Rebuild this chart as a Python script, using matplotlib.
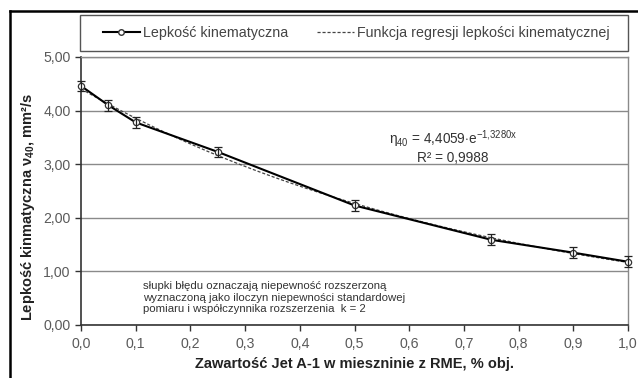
import numpy as np
import matplotlib
matplotlib.use("Agg")
import matplotlib.pyplot as plt
from matplotlib.lines import Line2D
from matplotlib.patches import Rectangle

plt.rcParams["font.family"] = ["Liberation Sans", "DejaVu Sans"]
plt.rcParams["mathtext.fontset"] = "custom"
plt.rcParams["mathtext.rm"] = "Liberation Sans"
plt.rcParams["mathtext.it"] = "Liberation Sans"
plt.rcParams["mathtext.bf"] = "Liberation Sans:bold"

# measured kinematic viscosity vs Jet A-1 fraction in RME blend
jet_fraction = [0.0, 0.05, 0.1, 0.25, 0.5, 0.75, 0.9, 1.0]
viscosity = [4.46, 4.10, 3.78, 3.23, 2.23, 1.59, 1.35, 1.18]
uncertainty = [0.10, 0.10, 0.10, 0.10, 0.10, 0.10, 0.10, 0.10]

# exponential regression coefficients
fit_a = 4.4059
fit_b = -1.3280
fit_r2 = 0.9988

x_ticks = [0.0, 0.1, 0.2, 0.3, 0.4, 0.5, 0.6, 0.7, 0.8, 0.9, 1.0]
y_ticks = [0, 1, 2, 3, 4, 5]

tick_color = "#5a5a5a"
grid_color = "#8a8a8a"

fig = plt.figure(figsize=(6.38, 3.78), dpi=100)
ax = fig.add_axes([81 / 638, 1 - 325 / 378, 547 / 638, 268 / 378])

xs = np.linspace(0, 1, 200)
ax.plot(xs, fit_a * np.exp(fit_b * xs), color="#444444", lw=0.9,
        ls=(0, (2.5, 1.5)), zorder=3,
        label="Funkcja regresji lepkości kinematycznej")
ax.plot(jet_fraction, viscosity, color="black", lw=1.5, zorder=4,
        marker="o", ms=4.5, mfc="white", mec="#333333", mew=0.9,
        clip_on=False, label="Lepkość kinematyczna")
eb = ax.errorbar(jet_fraction, viscosity, yerr=uncertainty, fmt="none",
                 ecolor="#222222", elinewidth=0.9, capsize=3, capthick=0.9,
                 zorder=5)
for art in eb.get_children():
    art.set_clip_on(False)

ax.set_xlim(0, 1)
ax.set_ylim(0, 5)
ax.set_xticks(x_ticks)
ax.set_xticklabels([f"{t:.1f}".replace(".", ",") for t in x_ticks])
ax.set_yticks(y_ticks)
ax.set_yticklabels([f"{t:.2f}".replace(".", ",") for t in y_ticks])
ax.tick_params(axis="both", direction="out", length=4, width=1,
               color="#333333", labelcolor=tick_color, labelsize=10.2)
ax.tick_params(axis="x", pad=5)
ax.grid(axis="y", color=grid_color, lw=1)
ax.set_axisbelow(True)
for side in ["left", "bottom"]:
    ax.spines[side].set_color("#333333")
    ax.spines[side].set_linewidth(1.2)
for side in ["top", "right"]:
    ax.spines[side].set_color(grid_color)
    ax.spines[side].set_linewidth(1)

ax.set_xlabel("Zawartość Jet A-1 w mieszninie z RME, % obj.",
              fontsize=10.5, fontweight="bold", color="#222222", labelpad=4)
fig.text(28 / 638, 1 - 207 / 378,
         r"Lepkość kinmatyczna ν$_{\mathbf{40}}$, mm²/s",
         rotation=90, ha="center", va="center",
         fontsize=10.5, fontweight="bold", color="#222222")

ax.text(0.68, 3.47,
        r"$\eta_{40}$ = 4,4059$\cdot$e$^{-1{,}3280x}$",
        ha="center", va="center", fontsize=9.8, color="#333333")
ax.text(0.68, 3.11, f"R² = {fit_r2:.4f}".replace(".", ","),
        ha="center", va="center", fontsize=9.8, color="#333333")

ax.text(0.113, 0.51,
        "słupki błędu oznaczają niepewność rozszerzoną\n"
        "wyznaczoną jako iloczyn niepewności standardowej\n"
        "pomiaru i współczynnika rozszerzenia  k = 2",
        ha="left", va="center", fontsize=8.2, color="#333333",
        linespacing=1.15)

# legend box above the plot area
fig.patches.append(Rectangle((80 / 638, 1 - 51 / 378), 548 / 638, 36 / 378,
                             transform=fig.transFigure, fill=False,
                             edgecolor="#555555", lw=1))
handles = [
    Line2D([], [], color="black", lw=1.5, marker="o", ms=4, mfc="white",
           mec="#333333"),
    Line2D([], [], color="#444444", lw=0.9, ls=(0, (2.5, 1.5))),
]
fig.legend(handles, ["Lepkość kinematyczna",
                     "Funkcja regresji lepkości kinematycznej"],
           loc="center", bbox_to_anchor=(356 / 638, 1 - 33 / 378),
           ncol=2, frameon=False, fontsize=10.3, handlelength=2.6,
           columnspacing=2.0, handletextpad=0.2, labelcolor="#444444")

# outer frame edges
fig.add_artist(Line2D([10 / 638, 10 / 638], [0, 1 - 11 / 378],
                      transform=fig.transFigure, color="black", lw=1.8))
fig.add_artist(Line2D([10 / 638, 1], [1 - 11 / 378, 1 - 11 / 378],
                      transform=fig.transFigure, color="black", lw=1.8))

fig.savefig("out.png", dpi=100, facecolor="white")
